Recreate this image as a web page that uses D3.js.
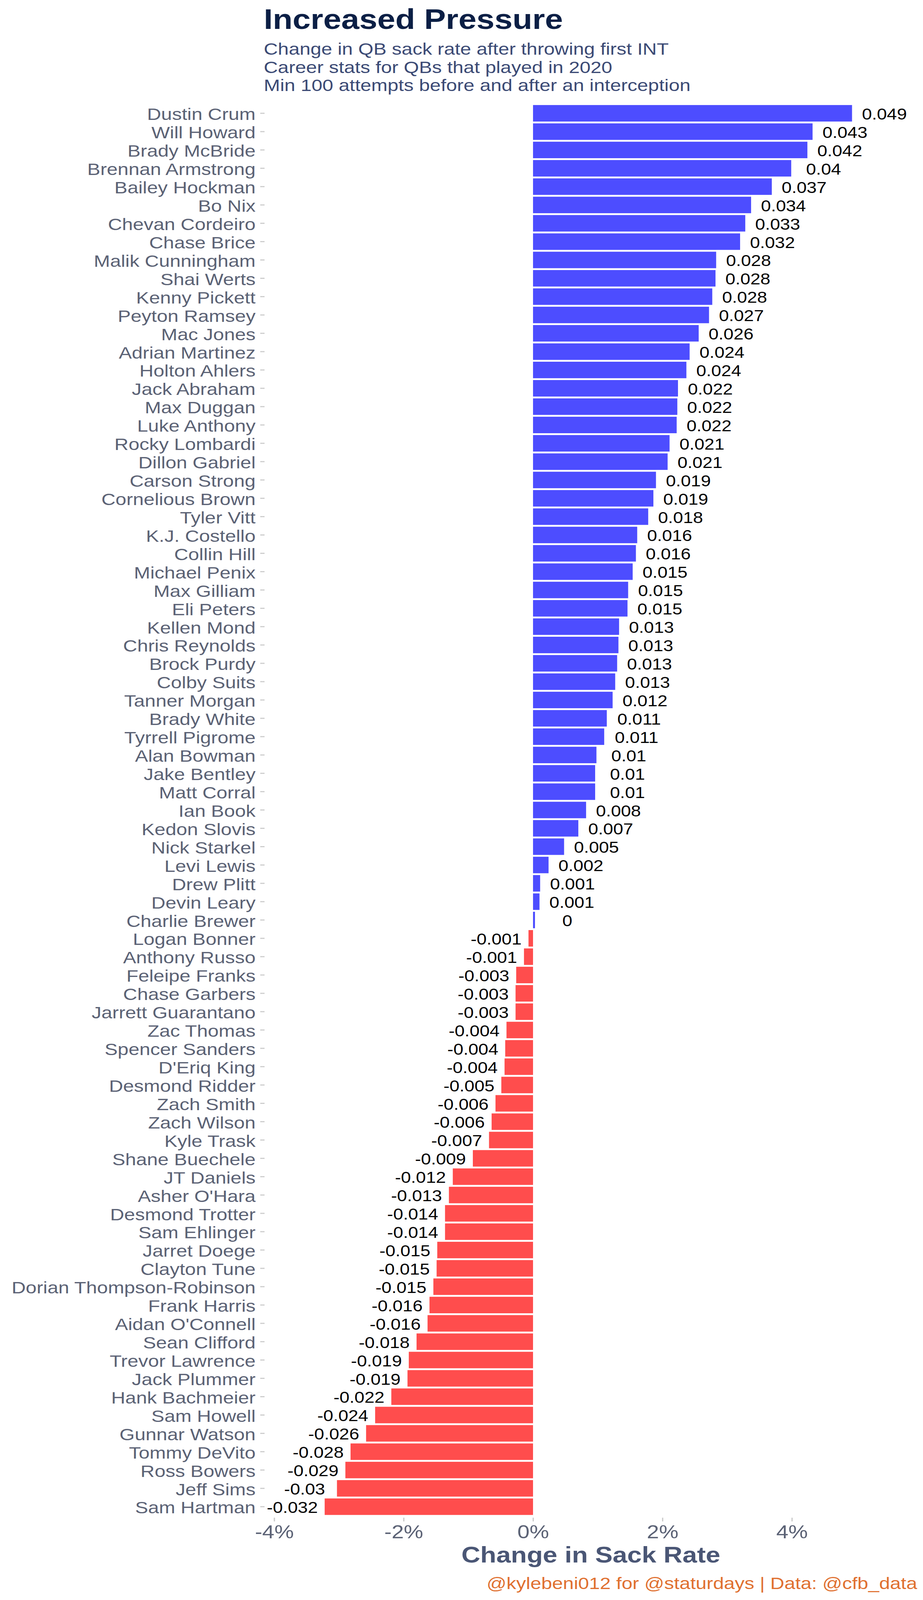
<!DOCTYPE html>
<html>
<head>
<meta charset="utf-8">
<script src="https://cdn.jsdelivr.net/npm/d3@7"></script>
<style>
  html, body { margin: 0; padding: 0; background: #fff; overflow: hidden; }
  svg { display: block; font-family: "Liberation Sans", Arial, sans-serif; }
</style>
</head>
<body>
<svg id="chart"></svg>
<script>
// QBs, top to bottom
const players = [
  "Dustin Crum", "Will Howard", "Brady McBride", "Brennan Armstrong", "Bailey Hockman",
  "Bo Nix", "Chevan Cordeiro", "Chase Brice", "Malik Cunningham", "Shai Werts",
  "Kenny Pickett", "Peyton Ramsey", "Mac Jones", "Adrian Martinez", "Holton Ahlers",
  "Jack Abraham", "Max Duggan", "Luke Anthony", "Rocky Lombardi", "Dillon Gabriel",
  "Carson Strong", "Cornelious Brown", "Tyler Vitt", "K.J. Costello", "Collin Hill",
  "Michael Penix", "Max Gilliam", "Eli Peters", "Kellen Mond", "Chris Reynolds",
  "Brock Purdy", "Colby Suits", "Tanner Morgan", "Brady White", "Tyrrell Pigrome",
  "Alan Bowman", "Jake Bentley", "Matt Corral", "Ian Book", "Kedon Slovis",
  "Nick Starkel", "Levi Lewis", "Drew Plitt", "Devin Leary", "Charlie Brewer",
  "Logan Bonner", "Anthony Russo", "Feleipe Franks", "Chase Garbers", "Jarrett Guarantano",
  "Zac Thomas", "Spencer Sanders", "D'Eriq King", "Desmond Ridder", "Zach Smith",
  "Zach Wilson", "Kyle Trask", "Shane Buechele", "JT Daniels", "Asher O'Hara",
  "Desmond Trotter", "Sam Ehlinger", "Jarret Doege", "Clayton Tune", "Dorian Thompson-Robinson",
  "Frank Harris", "Aidan O'Connell", "Sean Clifford", "Trevor Lawrence", "Jack Plummer",
  "Hank Bachmeier", "Sam Howell", "Gunnar Watson", "Tommy DeVito", "Ross Bowers",
  "Jeff Sims", "Sam Hartman"
];

// change in sack rate after first INT
const sackRateChange = [
  0.0493, 0.0432, 0.0424, 0.0399, 0.0369,
  0.0337, 0.0328, 0.0320, 0.0283, 0.0282,
  0.0277, 0.0272, 0.0256, 0.0242, 0.0237,
  0.0224, 0.0223, 0.0222, 0.0211, 0.0208,
  0.0190, 0.0186, 0.0178, 0.0161, 0.0159,
  0.0154, 0.0147, 0.0146, 0.0133, 0.0132,
  0.0130, 0.0127, 0.0123, 0.0114, 0.0110,
  0.0098, 0.0096, 0.0096, 0.0082, 0.0070,
  0.0048, 0.0024, 0.0011, 0.0010, 0.0003,
  -0.0007, -0.0014, -0.0026, -0.0027, -0.0027,
  -0.0041, -0.0043, -0.0044, -0.0049, -0.0058,
  -0.0064, -0.0068, -0.0093, -0.0124, -0.0130,
  -0.0136, -0.0136, -0.0148, -0.0149, -0.0154,
  -0.0160, -0.0163, -0.0180, -0.0192, -0.0194,
  -0.0219, -0.0244, -0.0258, -0.0282, -0.0290,
  -0.0303, -0.0322
];

const xTicks = [-0.04, -0.02, 0, 0.02, 0.04];

const title = "Increased Pressure";
const subtitle = [
  "Change in QB sack rate after throwing first INT",
  "Career stats for QBs that played in 2020",
  "Min 100 attempts before and after an interception"
];
const xTitle = "Change in Sack Rate";
const caption = "@kylebeni012 for @staturdays | Data: @cfb_data";

// drawn in a 2362x4724 space, stretched to whatever the window gives us
const width = 2362, height = 4724;
const panel = { left: 677, right: 2347, top: 302, bottom: 4481 };
const labelNudge = 0.005;

const data = players.map((name, i) => ({ name, value: sackRateChange[i] }));

const svg = d3.select("#chart")
  .attr("width", window.innerWidth || width)
  .attr("height", window.innerHeight || height)
  .attr("viewBox", `0 0 ${width} ${height}`)
  .attr("preserveAspectRatio", "none");

const x = d3.scaleLinear()
  .domain([-0.04149, 0.05936])
  .range([panel.left, panel.right]);

const y = d3.scaleBand()
  .domain(players)
  .range([panel.top, panel.bottom])
  .paddingInner(0.1)
  .paddingOuter(0.15);

const fmtLabel = (v) => String(+v.toFixed(3));

// bars
svg.append("g")
  .selectAll("rect")
  .data(data)
  .join("rect")
  .attr("x", (d) => x(Math.min(0, d.value)))
  .attr("y", (d) => y(d.name))
  .attr("width", (d) => Math.abs(x(d.value) - x(0)))
  .attr("height", y.bandwidth())
  .attr("fill", (d) => d.value >= 0 ? "#4D4DFF" : "#FF4D4D");

// value labels
svg.append("g")
  .selectAll("text")
  .data(data)
  .join("text")
  .attr("x", (d) => x(d.value + (d.value >= 0 ? labelNudge : -labelNudge)))
  .attr("y", (d) => y(d.name) + y.bandwidth() / 2)
  .attr("dy", "0.4em")
  .attr("text-anchor", "middle")
  .style("font-size", "46px")
  .style("fill", "#000")
  .text((d) => fmtLabel(d.value));

// y axis (names)
const yAxis = svg.append("g")
  .attr("transform", `translate(${panel.left},0)`)
  .call(d3.axisLeft(y).tickSize(11).tickPadding(12));
yAxis.select(".domain").remove();
yAxis.selectAll(".tick line").attr("stroke", "#CCCCCC").attr("stroke-width", 3.3);
yAxis.selectAll(".tick text")
  .attr("dy", "0.4em")
  .style("font-size", "50px")
  .style("font-family", "'Liberation Sans', Arial, sans-serif")
  .style("fill", "#5B6275");

// x axis
const xAxis = svg.append("g")
  .attr("transform", `translate(0,${panel.bottom})`)
  .call(d3.axisBottom(x)
    .tickValues(xTicks)
    .tickFormat((d) => `${Math.round(d * 100)}%`)
    .tickSize(11)
    .tickPadding(10));
xAxis.select(".domain").remove();
xAxis.selectAll(".tick line").attr("stroke", "#CCCCCC").attr("stroke-width", 3.3);
xAxis.selectAll(".tick text")
  .style("font-size", "56px")
  .style("font-family", "'Liberation Sans', Arial, sans-serif")
  .style("fill", "#5B6275");

// titles
svg.append("text")
  .attr("x", panel.left - 2)
  .attr("y", 85)
  .style("font-size", "83px")
  .style("font-weight", "bold")
  .style("fill", "#0B1F45")
  .text(title);

svg.append("g")
  .selectAll("text")
  .data(subtitle)
  .join("text")
  .attr("x", panel.left - 2)
  .attr("y", (d, i) => 162 + i * 53.3)
  .style("font-size", "50px")
  .style("fill", "#3B4A75")
  .text((d) => d);

svg.append("text")
  .attr("x", (panel.left + panel.right) / 2)
  .attr("y", 4613)
  .attr("text-anchor", "middle")
  .style("font-size", "67px")
  .style("font-weight", "bold")
  .style("fill", "#4A5675")
  .text(xTitle);

svg.append("text")
  .attr("x", panel.right)
  .attr("y", 4692)
  .attr("text-anchor", "end")
  .style("font-size", "50px")
  .style("fill", "#E07030")
  .text(caption);
</script>
</body>
</html>
